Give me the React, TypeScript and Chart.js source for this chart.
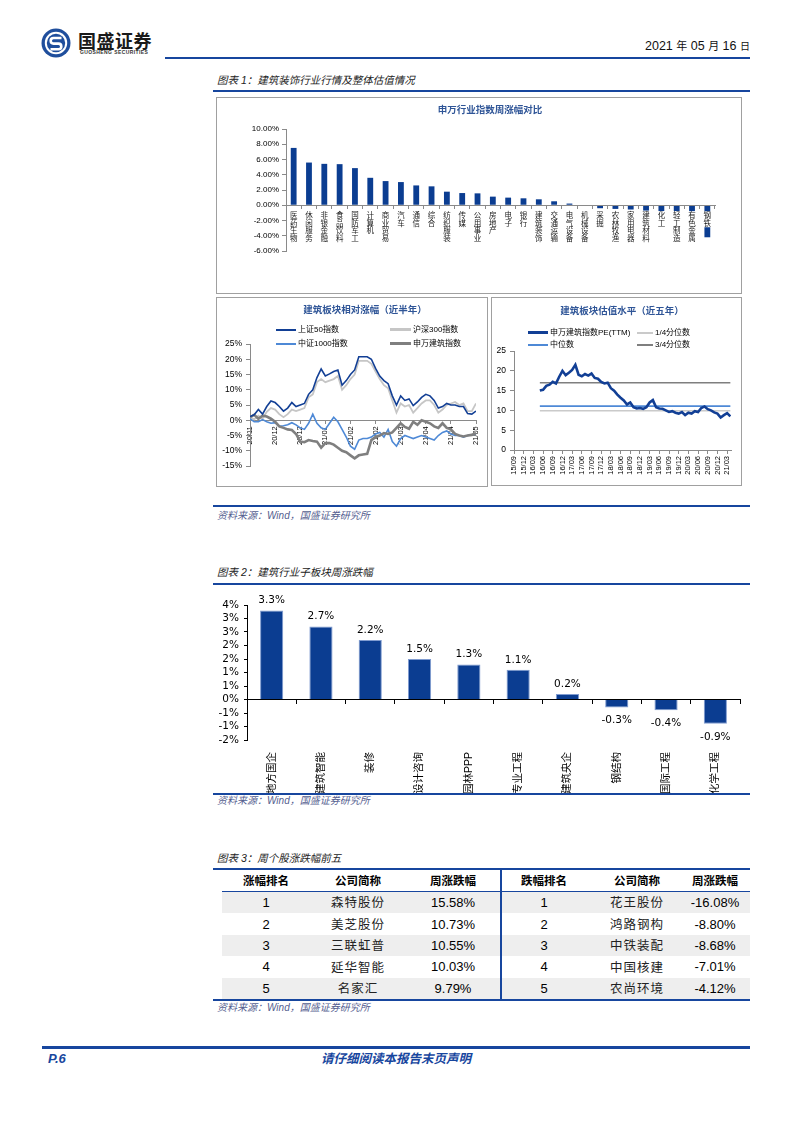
import React, { useEffect, useRef } from 'react';
import { Chart, registerables } from 'chart.js';

Chart.register(...registerables);

// ---------------- data ----------------
const industryNames = ['医药生物', '休闲服务', '非银金融', '食品饮料', '国防军工', '计算机', '商业贸易', '汽车', '通信', '综合', '纺织服装', '传媒', '公用事业', '房地产', '电子', '银行', '建筑装饰', '交通运输', '电气设备', '机械设备', '采掘', '农林牧渔', '家用电器', '建筑材料', '化工', '轻工制造', '有色金属', '钢铁'];
const industryChanges = [7.52, 5.6, 5.43, 5.39, 4.87, 3.6, 3.17, 3.04, 2.6, 2.48, 1.78, 1.6, 1.56, 1.13, 1.0, 0.91, 0.78, 0.52, 0.22, -0.05, -0.39, -0.48, -0.56, -0.7, -0.78, -0.78, -0.83, -4.2];

const relTickLabels = ['20/11', '20/12', '20/12', '21/01', '21/02', '21/02', '21/03', '21/04', '21/04', '21/05'];
const relPointsPerTick = 6;
const sz50Label = '上证50指数';
const hs300Label = '沪深300指数';
const zz1000Label = '中证1000指数';
const swBuildLabel = '申万建筑指数';
const sz50Values = [1.2, 1.8, 3.5, 2.0, 4.5, 6.3, 5.8, 4.5, 3.0, 4.0, 5.8, 4.5, 5.0, 5.5, 8.5, 10.0, 14.0, 16.8, 14.5, 15.2, 16.0, 16.5, 11.5, 13.0, 15.0, 16.5, 20.8, 20.8, 20.8, 20.0, 17.0, 14.5, 13.0, 12.0, 8.0, 5.0, 8.0, 6.5, 7.0, 4.8, 6.0, 7.5, 8.5, 8.0, 6.5, 4.0, 4.5, 5.5, 5.0, 5.0, 4.5, 4.5, 2.2, 2.0, 3.0];
const hs300Values = [1.0, 0.3, 1.5, 0.5, 2.8, 4.0, 3.5, 2.0, 1.0, 2.0, 3.5, 3.0, 3.5, 4.0, 7.5, 8.5, 12.5, 13.5, 12.5, 13.0, 13.5, 14.5, 10.0, 11.5, 13.5, 15.0, 19.5, 19.5, 19.5, 18.5, 16.0, 13.5, 11.5, 10.5, 6.5, 2.5, 5.5, 4.5, 5.0, 2.5, 4.0, 5.5, 6.5, 6.5, 5.0, 2.5, 3.5, 5.0, 5.5, 6.0, 5.0, 5.5, 3.0, 3.0, 5.5];
const zz1000Values = [0.5, -0.5, -0.5, 0.2, -0.5, -1.0, -0.8, -2.0, -1.8, -1.5, -0.8, -1.5, -2.5, -3.0, -1.0, 2.0, -1.0, -2.5, -3.0, -1.0, 1.0, -0.5, -3.0, -5.5, -8.5, -9.5, -6.5, -6.0, -6.0, -5.5, -4.5, -4.0, -5.5, -3.0, -7.0, -8.5, -6.0, -5.0, -5.5, -6.0, -5.5, -5.0, -5.5, -6.0, -6.5, -5.0, -4.0, -3.5, -4.5, -5.0, -5.0, -5.5, -5.0, -4.8, -4.5];
const swBuildValues = [1.0, 1.8, 0.5, 1.5, 1.2, 0.5, -0.5, -2.0, -2.5, -3.0, -3.2, -4.5, -7.0, -7.2, -6.5, -6.8, -7.0, -9.0, -7.5, -7.5, -8.0, -9.0, -10.0, -10.5, -11.5, -12.5, -11.5, -11.2, -11.0, -6.5, -5.5, -5.0, -4.2, -4.5, -4.0, -2.5, -1.0, -2.2, -2.8, -0.5, -1.5, 0.0, -0.5, -1.0, -2.0, -2.5, -1.0, -2.5, -3.0, -4.5, -5.0, -5.3, -5.0, -4.8, -4.2];

const peTickLabels = ['15/09', '15/12', '16/03', '16/06', '16/09', '16/12', '17/03', '17/06', '17/09', '17/12', '18/03', '18/06', '18/09', '18/12', '19/03', '19/06', '19/09', '19/12', '20/03', '20/06', '20/09', '20/12', '21/03'];
const peMonthsPerTick = 3;
const peStartMonth = 8;
const peLabel = '申万建筑指数PE(TTM)';
const peQ25Label = '1/4分位数';
const peMedianLabel = '中位数';
const peQ75Label = '3/4分位数';
const peValues = [15.0, 15.2, 16.2, 16.5, 17.2, 16.8, 18.5, 20.0, 18.9, 19.5, 20.2, 21.5, 19.0, 18.6, 19.2, 18.8, 19.3, 18.2, 18.0, 17.2, 16.8, 17.0, 15.6, 15.0, 14.0, 13.2, 12.5, 11.5, 12.0, 10.8, 10.5, 10.6, 10.4, 10.8, 12.0, 12.6, 10.8, 10.5, 10.4, 10.0, 9.6, 9.8, 9.4, 9.2, 9.6, 8.8, 9.4, 9.2, 9.8, 9.6, 10.6, 11.0, 10.3, 10.0, 9.5, 9.2, 8.2, 8.8, 9.3, 8.5];
const peQ25 = 9.9;
const peMedian = 11.1;
const peQ75 = 17.0;

const sectorNames = ['地方国企', '建筑智能', '装修', '设计咨询', '园林PPP', '专业工程', '建筑央企', '钢结构', '国际工程', '化学工程'];
const sectorChanges = [3.3, 2.7, 2.2, 1.5, 1.3, 1.1, 0.2, -0.3, -0.4, -0.9];

const tableHeaders = ['涨幅排名', '公司简称', '周涨跌幅', '跌幅排名', '公司简称', '周涨跌幅'];
const ranks = [1, 2, 3, 4, 5];
const gainNames = ['森特股份', '美芝股份', '三联虹普', '延华智能', '名家汇'];
const gainPct = [15.58, 10.73, 10.55, 10.03, 9.79];
const lossNames = ['花王股份', '鸿路钢构', '中铁装配', '中国核建', '农尚环境'];
const lossPct = [-16.08, -8.8, -8.68, -7.01, -4.12];

// ---------------- styles ----------------
const CJK = '"Noto Sans CJK SC", sans-serif';
const MIX = '"Liberation Sans", "Noto Sans CJK SC", sans-serif';
const VER = '"DejaVu Sans", "Noto Sans CJK SC", sans-serif';
const BAR_BLUE = '#0b3d91';
const RULE_BLUE = '#17469e';
const C_SZ50 = '#123f95';
const C_HS300 = '#c6c6c6';
const C_ZZ1000 = '#4e89d6';
const C_SW = '#7f7f7f';
const AXIS_GRAY = '#8a8a8a';

const IND_LABEL_SIZE = 7.5;
const IND_LABEL_GAP = 6.5;

Chart.defaults.font.family = MIX;

// vertical (one character per line) category labels under the zero line, with a white patch behind
const verticalCategoryLabels = {
  id: 'verticalCategoryLabels',
  afterDatasetsDraw(chart: any) {
    const sc = chart.scales.x;
    const zeroY = chart.scales.y.getPixelForValue(0);
    const ctx = chart.ctx;
    const labels = chart.data.labels as string[];
    ctx.save();
    ctx.font = IND_LABEL_SIZE + 'px ' + CJK;
    ctx.textAlign = 'center';
    ctx.textBaseline = 'middle';
    labels.forEach((n, i) => {
      const x = sc.getPixelForValue(i);
      const top = zeroY + IND_LABEL_GAP;
      const chars = n.split('');
      ctx.fillStyle = '#ffffff';
      ctx.fillRect(x - IND_LABEL_SIZE / 2 - 0.5, top - 0.5, IND_LABEL_SIZE + 1, chars.length * IND_LABEL_SIZE + 1);
      ctx.fillStyle = '#222';
      chars.forEach((c, j) => ctx.fillText(c, x, top + j * IND_LABEL_SIZE + IND_LABEL_SIZE / 2));
    });
    ctx.restore();
  },
};

// ---------------- chart configs ----------------
function industryConfig(): any {
  return {
    type: 'bar',
    data: {
      labels: industryNames,
      datasets: [{ data: industryChanges, backgroundColor: BAR_BLUE, barPercentage: 0.38, categoryPercentage: 1 }],
    },
    plugins: [verticalCategoryLabels],
    options: {
      responsive: false,
      animation: false,
      layout: { padding: { top: 32, right: 27, bottom: 43, left: 0 } },
      plugins: { legend: { display: false }, tooltip: { enabled: false } },
      scales: {
        x: {
          position: { y: 0 },
          grid: { drawOnChartArea: false, tickLength: 3, color: AXIS_GRAY, offset: true },
          border: { color: AXIS_GRAY, z: 1 },
          ticks: { display: false },
        },
        y: {
          min: -6, max: 10,
          ticks: { stepSize: 2, autoSkip: false, callback: (v: any) => Number(v).toFixed(2) + '%', font: { size: 8 }, color: '#000', padding: 3 },
          grid: { drawOnChartArea: false, tickLength: 4, color: AXIS_GRAY },
          border: { color: AXIS_GRAY },
          afterFit: (s: any) => { s.width = 70; },
        },
      },
    },
  };
}

function relConfig(): any {
  const pts = (arr: number[]) => arr.map((y, i) => ({ x: i, y }));
  return {
    type: 'line',
    data: {
      datasets: [
        { label: sz50Label, data: pts(sz50Values), borderColor: C_SZ50, borderWidth: 1.6 },
        { label: swBuildLabel, data: pts(swBuildValues), borderColor: C_SW, borderWidth: 2.6 },
        { label: zz1000Label, data: pts(zz1000Values), borderColor: C_ZZ1000, borderWidth: 1.6 },
        { label: hs300Label, data: pts(hs300Values), borderColor: C_HS300, borderWidth: 1.8 },
      ],
    },
    options: {
      responsive: false,
      animation: false,
      elements: { point: { radius: 0 }, line: { tension: 0 } },
      layout: { padding: { top: 47, right: 5, bottom: 21, left: 0 } },
      plugins: { legend: { display: false }, tooltip: { enabled: false } },
      scales: {
        x: {
          type: 'linear',
          position: { y: 0 },
          min: 0,
          max: (relTickLabels.length - 1) * relPointsPerTick,
          afterBuildTicks: (s: any) => { s.ticks = relTickLabels.map((_, i) => ({ value: i * relPointsPerTick })); },
          ticks: {
            autoSkip: false, maxRotation: 90, minRotation: 90, padding: 3,
            callback: (_v: any, i: number) => relTickLabels[i],
            font: { size: 7.5 }, color: '#000',
          },
          grid: { drawOnChartArea: false, tickLength: 3, color: AXIS_GRAY },
          border: { color: AXIS_GRAY },
        },
        y: {
          min: -15, max: 25,
          ticks: { stepSize: 5, autoSkip: false, callback: (v: any) => v + '%', font: { size: 8.5 }, color: '#000', padding: 4 },
          grid: { drawOnChartArea: false, tickLength: 4, color: AXIS_GRAY },
          border: { color: AXIS_GRAY },
          afterFit: (s: any) => { s.width = 34; },
        },
      },
    },
  };
}

function peConfig(): any {
  const end = peStartMonth + peValues.length - 1;
  const flat = (v: number) => [{ x: peStartMonth, y: v }, { x: end, y: v }];
  return {
    type: 'line',
    data: {
      datasets: [
        { label: peLabel, data: peValues.map((y, i) => ({ x: peStartMonth + i, y })), borderColor: C_SZ50, borderWidth: 2.6 },
        { label: peQ75Label, data: flat(peQ75), borderColor: C_SW, borderWidth: 1.6 },
        { label: peMedianLabel, data: flat(peMedian), borderColor: C_ZZ1000, borderWidth: 1.8 },
        { label: peQ25Label, data: flat(peQ25), borderColor: '#cacaca', borderWidth: 1.6 },
      ],
    },
    options: {
      responsive: false,
      animation: false,
      elements: { point: { radius: 0 }, line: { tension: 0 } },
      layout: { padding: { top: 54, right: 11, bottom: 36, left: 0 } },
      plugins: { legend: { display: false }, tooltip: { enabled: false } },
      scales: {
        x: {
          type: 'linear',
          position: { y: 0 },
          min: 0,
          max: end + 0.2,
          afterBuildTicks: (s: any) => { s.ticks = peTickLabels.map((_, i) => ({ value: i * peMonthsPerTick })); },
          ticks: {
            autoSkip: false, maxRotation: 90, minRotation: 90, padding: 3,
            callback: (_v: any, i: number) => peTickLabels[i],
            font: { size: 7.5 }, color: '#000',
          },
          grid: { drawOnChartArea: false, tickLength: 3, color: AXIS_GRAY },
          border: { color: AXIS_GRAY },
        },
        y: {
          min: 0, max: 25,
          ticks: { stepSize: 5, autoSkip: false, font: { size: 8.5 }, color: '#000', padding: 4 },
          grid: { drawOnChartArea: false, tickLength: 4, color: AXIS_GRAY },
          border: { color: AXIS_GRAY },
          afterFit: (s: any) => { s.width = 23; },
        },
      },
    },
  };
}

const barValueLabels = {
  id: 'barValueLabels',
  afterDatasetsDraw(chart: any) {
    const ctx = chart.ctx;
    const meta = chart.getDatasetMeta(0);
    const data = chart.data.datasets[0].data as number[];
    ctx.save();
    ctx.font = '10.5px ' + VER;
    ctx.fillStyle = '#000';
    ctx.textAlign = 'center';
    ctx.textBaseline = 'middle';
    meta.data.forEach((bar: any, i: number) => {
      const v = data[i];
      const y = v >= 0 ? bar.y - 10 : bar.y + 13;
      ctx.fillText(v.toFixed(1) + '%', bar.x, y);
    });
    ctx.restore();
  },
};

function sectorConfig(): any {
  return {
    type: 'bar',
    data: {
      labels: sectorNames,
      datasets: [{ data: sectorChanges, backgroundColor: BAR_BLUE, borderColor: '#7f9bd0', borderWidth: 1, barPercentage: 0.47, categoryPercentage: 1 }],
    },
    plugins: [barValueLabels],
    options: {
      responsive: false,
      animation: false,
      layout: { padding: { top: 15, right: 10, bottom: 0, left: 0 } },
      plugins: { legend: { display: false }, tooltip: { enabled: false } },
      scales: {
        x: {
          position: { y: 0 },
          grid: { drawOnChartArea: false, tickLength: 4, color: '#000', offset: true },
          border: { color: '#000', z: 1 },
          ticks: { display: false },
        },
        x2: {
          type: 'category',
          position: 'bottom',
          labels: sectorNames,
          grid: { display: false },
          border: { display: false },
          ticks: { autoSkip: false, maxRotation: 90, minRotation: 90, padding: 4, font: { size: 10.5, family: MIX }, color: '#000' },
          afterFit: (s: any) => { s.height = 55; },
        },
        y: {
          min: -1.5, max: 3.5,
          ticks: {
            stepSize: 0.5,
            autoSkip: false,
            callback: (v: any) => { const n = Number(v); return (n < 0 ? -Math.round(-n) : Math.round(n)) + '%'; },
            font: { size: 10.5, family: VER }, color: '#000', padding: 5,
          },
          grid: { drawOnChartArea: false, tickLength: 3, color: '#000' },
          border: { color: '#000' },
          afterFit: (s: any) => { s.width = 32; },
        },
      },
    },
  };
}

// ---------------- components ----------------
function ChartCanvas(props: { left: number; top: number; width: number; height: number; make: () => any }) {
  const ref = useRef<HTMLCanvasElement | null>(null);
  useEffect(() => {
    const chart = new Chart(ref.current as HTMLCanvasElement, props.make());
    return () => chart.destroy();
  }, []);
  return (
    <canvas
      ref={ref}
      width={props.width}
      height={props.height}
      style={{ position: 'absolute', left: props.left, top: props.top, width: props.width, height: props.height }}
    />
  );
}

function Txt(props: { x: number; y: number; size: number; children: any; style?: any; center?: boolean; right?: boolean }) {
  const st: any = {
    position: 'absolute',
    top: props.y - props.size / 2,
    fontSize: props.size,
    lineHeight: props.size + 'px',
    whiteSpace: 'nowrap',
    fontFamily: MIX,
    color: '#000',
    ...props.style,
  };
  if (props.center) { st.left = props.x; st.transform = 'translateX(-50%)'; }
  else if (props.right) { st.right = 793 - props.x; }
  else { st.left = props.x; }
  return <div style={st}>{props.children}</div>;
}

function Rule(props: { x: number; y: number; w: number; h: number; color?: string }) {
  return <div style={{ position: 'absolute', left: props.x, top: props.y, width: props.w, height: props.h, background: props.color || RULE_BLUE }} />;
}

function Box(props: { x: number; y: number; w: number; h: number }) {
  return <div style={{ position: 'absolute', left: props.x, top: props.y, width: props.w, height: props.h, border: '1px solid #a0a0a0', boxSizing: 'border-box', pointerEvents: 'none' }} />;
}

function LegendItem(props: { sx: number; sw: number; y: number; lw: number; color: string; text: string }) {
  return (
    <>
      <div style={{ position: 'absolute', left: props.sx, top: props.y - props.lw / 2, width: props.sw, height: props.lw, background: props.color }} />
      <Txt x={props.sx + props.sw + 2} y={props.y} size={8}>{props.text}</Txt>
    </>
  );
}

const figTitleStyle = { fontStyle: 'italic', color: '#222', fontFamily: MIX };
const sourceStyle = { fontStyle: 'italic', color: '#55608f', fontFamily: MIX };
const chartTitleStyle = { fontWeight: 700, color: '#2f5597', fontFamily: CJK };

const tableCols = [266, 358, 453, 544, 637, 715];
const tableRowTop = 892;
const tableRowH = 21.4;

export default function App() {
  return (
    <div style={{ position: 'absolute', left: 0, top: 0, width: 793, height: 1122, background: '#fff', overflow: 'hidden' }}>
      {/* header */}
      <svg style={{ position: 'absolute', left: 41, top: 28 }} width={30} height={30} viewBox="0 0 30 30">
        <circle cx="15" cy="15" r="14.5" fill="#1f4e9c" />
        <circle cx="15" cy="15" r="11.2" fill="#fff" />
        <circle cx="15" cy="15" r="9.2" fill="#1f4e9c" />
        <path d="M20.5 10 H12.5 a2.8 2.8 0 0 0 0 5.6 H17.5 a2.8 2.8 0 0 1 0 5.6 H9.5" stroke="#fff" strokeWidth="2.6" fill="none" />
      </svg>
      <Txt x={78} y={40} size={18} style={{ fontFamily: CJK, fontWeight: 700, color: '#1a1a1a', letterSpacing: 0.5 }}>国盛证券</Txt>
      <Txt x={80} y={52.5} size={5} style={{ letterSpacing: 0.4, color: '#333', fontWeight: 700 }}>GUOSHENG SECURITIES</Txt>
      <Txt x={750} y={46} size={12.5} right style={{ color: '#111' }}>
        2021 <span style={{ fontSize: 11 }}>年</span> 05 <span style={{ fontSize: 11 }}>月</span> 16 <span style={{ fontSize: 10 }}>日</span>
      </Txt>
      <Rule x={165} y={57} w={585} h={2} />

      {/* figure 1 */}
      <Txt x={217} y={80} size={10.5} style={figTitleStyle}>图表 1：建筑装饰行业行情及整体估值情况</Txt>
      <Rule x={213} y={90} w={537} h={2} />

      <ChartCanvas left={216} top={97} width={526} height={197} make={industryConfig} />
      <Box x={216} y={97} w={526} h={197} />
      <Txt x={490} y={110} size={9.5} center style={chartTitleStyle}>申万行业指数周涨幅对比</Txt>

      <ChartCanvas left={216} top={297} width={272} height={190} make={relConfig} />
      <Box x={216} y={297} w={272} h={190} />
      <Txt x={365} y={310} size={9.5} center style={chartTitleStyle}>建筑板块相对涨幅（近半年）</Txt>
      <LegendItem sx={276} sw={20} y={329.5} lw={2} color={C_SZ50} text={sz50Label} />
      <LegendItem sx={390} sw={21} y={329.5} lw={2.2} color={C_HS300} text={hs300Label} />
      <LegendItem sx={276} sw={20} y={343.5} lw={2} color={C_ZZ1000} text={zz1000Label} />
      <LegendItem sx={390} sw={21} y={343.5} lw={3} color={C_SW} text={swBuildLabel} />

      <ChartCanvas left={491} top={297} width={251} height={189} make={peConfig} />
      <Box x={491} y={297} w={251} h={189} />
      <Txt x={622} y={310.5} size={9.5} center style={chartTitleStyle}>建筑板块估值水平（近五年）</Txt>
      <LegendItem sx={528} sw={20} y={332.7} lw={3} color={C_SZ50} text={peLabel} />
      <LegendItem sx={637} sw={16} y={332.7} lw={2} color={'#cacaca'} text={peQ25Label} />
      <LegendItem sx={528} sw={20} y={344.5} lw={2} color={C_ZZ1000} text={peMedianLabel} />
      <LegendItem sx={637} sw={16} y={344.5} lw={2} color={C_SW} text={peQ75Label} />

      <Rule x={213} y={505} w={537} h={2} />
      <Txt x={217} y={516} size={10} style={sourceStyle}>资料来源：Wind，国盛证券研究所</Txt>

      {/* figure 2 */}
      <Txt x={217} y={572} size={10.5} style={figTitleStyle}>图表 2：建筑行业子板块周涨跌幅</Txt>
      <Rule x={213} y={583} w={537} h={2} />
      <ChartCanvas left={215} top={590} width={535} height={205} make={sectorConfig} />
      <Rule x={213} y={793} w={537} h={2} />
      <Txt x={217} y={801} size={10} style={sourceStyle}>资料来源：Wind，国盛证券研究所</Txt>

      {/* figure 3 table */}
      <Txt x={217} y={858} size={10.5} style={figTitleStyle}>图表 3：周个股涨跌幅前五</Txt>
      <Rule x={213} y={868} w={537} h={2} />
      {tableHeaders.map((h, i) => (
        <Txt key={'h' + i} x={tableCols[i]} y={880.5} size={11.5} center style={{ fontFamily: CJK, fontWeight: 700 }}>{h}</Txt>
      ))}
      <Rule x={222} y={891} w={528} h={1} />
      {ranks.map((r, i) => {
        const top = tableRowTop + i * tableRowH;
        const cy = top + tableRowH / 2;
        return (
          <React.Fragment key={'r' + i}>
            {i % 2 === 0 && <div style={{ position: 'absolute', left: 222, top, width: 528, height: tableRowH, background: '#eeeeee' }} />}
            <Txt x={tableCols[0]} y={cy} size={13} center>{String(r)}</Txt>
            <Txt x={tableCols[1]} y={cy} size={12.5} center style={{ fontFamily: CJK, letterSpacing: 1, color: '#222' }}>{gainNames[i]}</Txt>
            <Txt x={tableCols[2]} y={cy} size={13} center>{gainPct[i].toFixed(2) + '%'}</Txt>
            <Txt x={tableCols[3]} y={cy} size={13} center>{String(r)}</Txt>
            <Txt x={tableCols[4]} y={cy} size={12.5} center style={{ fontFamily: CJK, letterSpacing: 1, color: '#222' }}>{lossNames[i]}</Txt>
            <Txt x={tableCols[5]} y={cy} size={13} center>{lossPct[i].toFixed(2) + '%'}</Txt>
          </React.Fragment>
        );
      })}
      <div style={{ position: 'absolute', left: 500, top: 870, width: 1.5, height: tableRowTop + 5 * tableRowH - 870, background: RULE_BLUE }} />
      <Rule x={213} y={tableRowTop + 5 * tableRowH} w={537} h={2} />
      <Txt x={217} y={tableRowTop + 5 * tableRowH + 9} size={10} style={sourceStyle}>资料来源：Wind，国盛证券研究所</Txt>

      {/* footer */}
      <Rule x={42} y={1046} w={708} h={2.5} />
      <Txt x={48} y={1058} size={13} style={{ fontStyle: 'italic', fontWeight: 700, color: RULE_BLUE }}>P.6</Txt>
      <Txt x={396} y={1058} size={12.5} center style={{ fontStyle: 'italic', fontWeight: 700, color: RULE_BLUE, fontFamily: CJK }}>请仔细阅读本报告末页声明</Txt>
    </div>
  );
}
